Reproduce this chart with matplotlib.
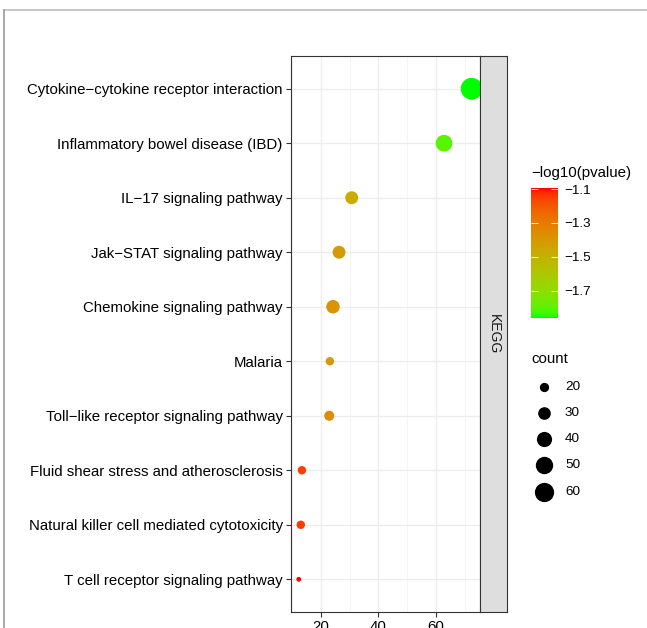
import numpy as np
import matplotlib
matplotlib.use("Agg")
import matplotlib.pyplot as plt
from matplotlib.colors import ListedColormap, Normalize
from matplotlib.lines import Line2D

plt.rcParams['font.family'] = ['Liberation Sans', 'DejaVu Sans']
plt.rcParams['axes.unicode_minus'] = True

# ---------------- data ----------------
categories = [
    "Cytokine\u2212cytokine receptor interaction",
    "Inflammatory bowel disease (IBD)",
    "IL\u221217 signaling pathway",
    "Jak\u2212STAT signaling pathway",
    "Chemokine signaling pathway",
    "Malaria",
    "Toll\u2212like receptor signaling pathway",
    "Fluid shear stress and atherosclerosis",
    "Natural killer cell mediated cytotoxicity",
    "T cell receptor signaling pathway",
]
x_values = [72.4, 62.8, 30.7, 26.3, 24.2, 23.1, 22.9, 13.4, 13.0, 12.3]
counts = [75, 47, 31, 31, 33, 18, 22, 18, 18, 12]
neglog10p = [-1.86, -1.80, -1.48, -1.42, -1.39, -1.40, -1.36, -1.15, -1.15, -1.094]
x_ticks = [20, 40, 60]
color_ticks = [-1.1, -1.3, -1.5, -1.7]
size_breaks = [20, 30, 40, 50, 60]
facet_label = "KEGG"
color_title = "\u2212log10(pvalue)"
size_title = "count"

# ---------------- helpers ----------------
W, H, DPI = 647, 628, 100


def srgb_to_lab(rgb):
    rgb = np.asarray(rgb, float)
    lin = np.where(rgb <= 0.04045, rgb / 12.92, ((rgb + 0.055) / 1.055) ** 2.4)
    M = np.array([[0.4124, 0.3576, 0.1805],
                  [0.2126, 0.7152, 0.0722],
                  [0.0193, 0.1192, 0.9505]])
    xyz = lin @ M.T
    xyz = xyz / np.array([0.95047, 1.0, 1.08883])
    f = np.where(xyz > 0.008856, np.cbrt(xyz), 7.787 * xyz + 16 / 116)
    L = 116 * f[..., 1] - 16
    a = 500 * (f[..., 0] - f[..., 1])
    b = 200 * (f[..., 1] - f[..., 2])
    return np.stack([L, a, b], -1)


def lab_to_srgb(lab):
    lab = np.asarray(lab, float)
    fy = (lab[..., 0] + 16) / 116
    fx = fy + lab[..., 1] / 500
    fz = fy - lab[..., 2] / 200
    f = np.stack([fx, fy, fz], -1)
    xyz = np.where(f ** 3 > 0.008856, f ** 3, (f - 16 / 116) / 7.787)
    xyz = xyz * np.array([0.95047, 1.0, 1.08883])
    Minv = np.array([[3.2406, -1.5372, -0.4986],
                     [-0.9689, 1.8758, 0.0415],
                     [0.0557, -0.2040, 1.0570]])
    lin = xyz @ Minv.T
    lin = np.clip(lin, 0, 1)
    rgb = np.where(lin <= 0.0031308, 12.92 * lin, 1.055 * lin ** (1 / 2.4) - 0.055)
    return np.clip(rgb, 0, 1)


low = srgb_to_lab([0.0, 1.0, 0.0])
high = srgb_to_lab([1.0, 0.0, 0.0])
t = np.linspace(0, 1, 256)[:, None]
cmap = ListedColormap(lab_to_srgb(low + (high - low) * t))
norm = Normalize(min(neglog10p), max(neglog10p))

cmin = min(counts) - 2
cmax = max(counts)


def dot_area(c):
    c = np.asarray(c, float)
    d_px = 1.2 + 20.6 * np.sqrt(np.clip((c - cmin) / (cmax - cmin), 0, None))
    return (d_px * 72.0 / DPI) ** 2


# ---------------- figure ----------------
fig = plt.figure(figsize=(W / DPI, H / DPI), dpi=DPI)
fig.patch.set_facecolor('white')

px = lambda x0, y0, x1, y1: [x0 / W, 1 - y1 / H, (x1 - x0) / W, (y1 - y0) / H]

ax = fig.add_axes(px(291, 56, 480, 612))
n = len(categories)
ypos = np.arange(n)[::-1]
ax.scatter(x_values, ypos, s=dot_area(counts), c=neglog10p, cmap=cmap, norm=norm,
           linewidths=0, zorder=3)
ax.set_xlim(9.6, 75.3)
ax.set_ylim(-0.6, n - 1 + 0.6)
ax.set_yticks(ypos)
ax.set_yticklabels(categories, fontsize=10.8, color='black')
ax.set_xticks(x_ticks)
ax.set_xticklabels([str(v) for v in x_ticks], fontsize=10.8, color='black')
ax.set_xticks([10, 30, 50, 70], minor=True)
ax.grid(True, which='major', color='#EDEDED', linewidth=0.9, zorder=0)
ax.grid(True, which='minor', axis='x', color='#F4F4F4', linewidth=0.6, zorder=0)
ax.set_axisbelow(True)
ax.tick_params(axis='both', which='major', length=3.5, width=0.8, color='#333333', pad=2.5)
ax.tick_params(axis='x', which='minor', length=0)
for sp in ax.spines.values():
    sp.set_color('#333333')
    sp.set_linewidth(0.8)

# facet strip
sax = fig.add_axes(px(480, 56, 507, 612))
sax.set_facecolor('#DEDEDE')
sax.set_xticks([])
sax.set_yticks([])
for sp in sax.spines.values():
    sp.set_color('#333333')
    sp.set_linewidth(0.8)
sax.text(0.5, 0.5, facet_label, rotation=270, ha='center', va='center', fontsize=10,
         color='#1A1A1A', transform=sax.transAxes)

# colour bar
cax = fig.add_axes(px(531, 188, 557.5, 318))
sm = plt.cm.ScalarMappable(norm=norm, cmap=cmap)
cb = fig.colorbar(sm, cax=cax)
cb.outline.set_visible(False)
cb.set_ticks(color_ticks)
cb.set_ticklabels([f"{v:.1f}".replace('-', '\u2212') for v in color_ticks])
cax.yaxis.set_ticks_position('both')
cax.tick_params(axis='y', direction='in', length=5, width=0.6, color='white',
                labelsize=9.7, pad=5, labelleft=False, labelright=True)

# overlay for legend / decorations (pixel coordinates)
ov = fig.add_axes([0, 0, 1, 1], facecolor='none')
ov.set_xlim(0, W)
ov.set_ylim(H, 0)
ov.axis('off')
ov.text(531.5, 173, color_title, fontsize=10.8, ha='left', va='center')
ov.text(531.5, 359, size_title, fontsize=10.8, ha='left', va='center')
for i, b in enumerate(size_breaks):
    yy = 386.7 + 26.25 * i
    ov.scatter([544], [yy], s=dot_area([b]), color='black', linewidths=0)
    ov.text(565, yy, str(b), fontsize=9.7, ha='left', va='center')

# screenshot frame lines
fig.add_artist(Line2D([3.5 / W, 1], [1 - 9.5 / H, 1 - 9.5 / H], color='#BDBDBD', linewidth=1.2,
                      transform=fig.transFigure))
fig.add_artist(Line2D([3.5 / W, 3.5 / W], [0, 1 - 9.5 / H], color='#9A9A9A', linewidth=1.2,
                      transform=fig.transFigure))

fig.savefig("out.png", dpi=DPI)
